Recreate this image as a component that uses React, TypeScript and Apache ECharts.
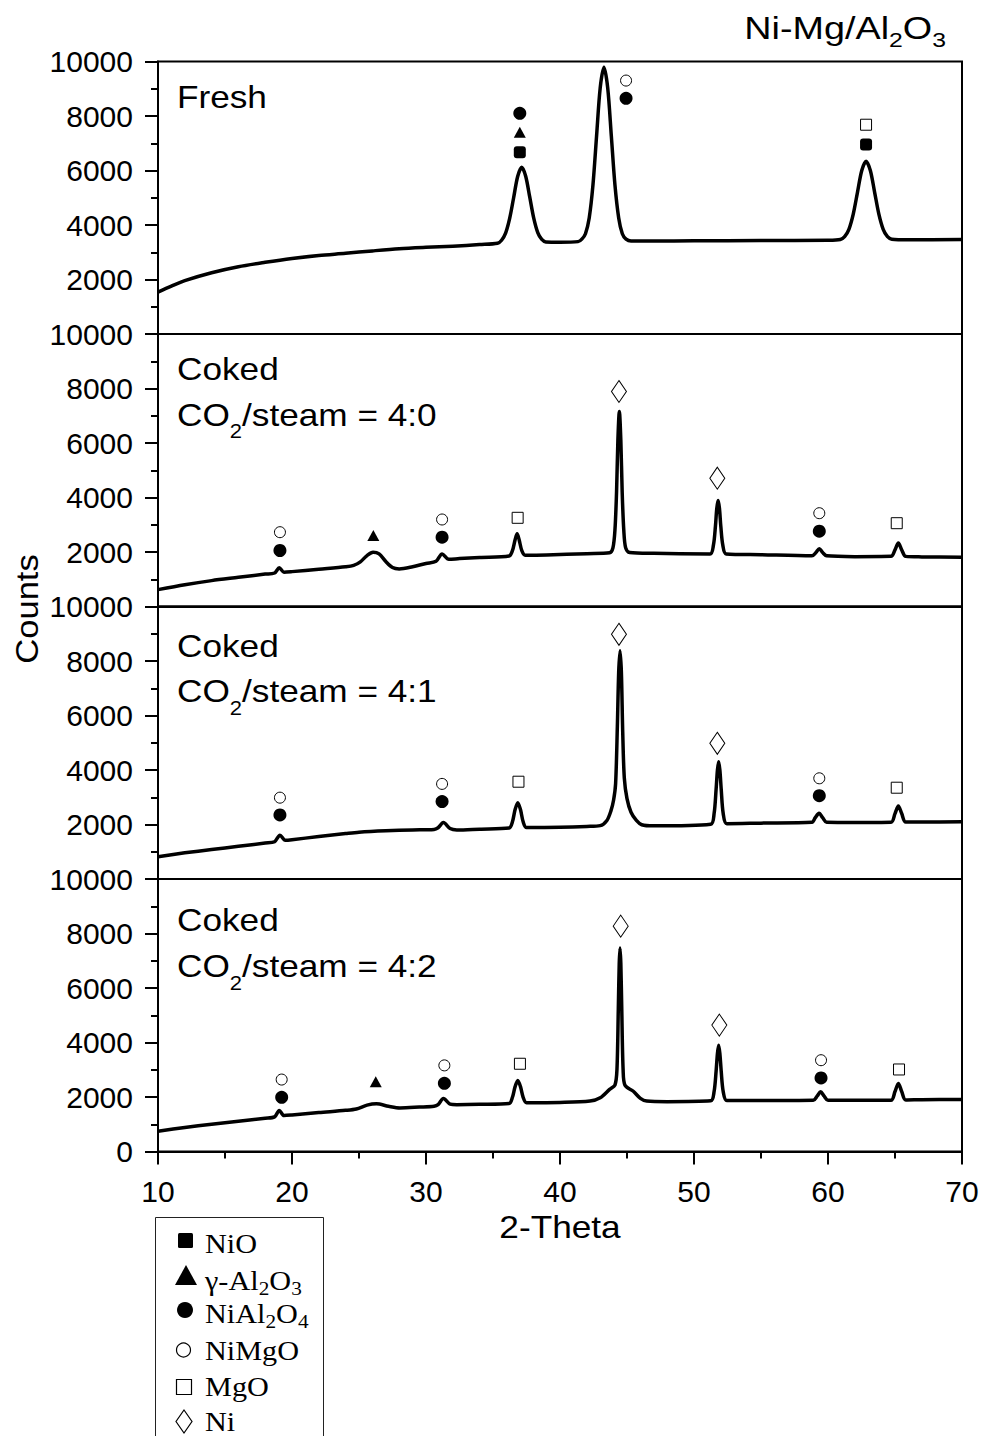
import React, { useEffect, useRef } from "react";
import * as echarts from "echarts";

// ---------- axes ----------
const X_MIN = 10;
const X_MAX = 70;
const X_INTERVAL = 10;
const Y_MIN = 0;
const Y_MAX = 10000;
const Y_INTERVAL = 2000;

// ---------- panel labels ----------
const panelTitles = ["Fresh", "Coked", "Coked", "Coked"];
const panelRatios = ["", "4:0", "4:1", "4:2"];

// ---------- diffraction patterns [2-theta, counts] ----------
const freshCurve = [
  [10, 1540], [11, 1760], [12, 1960], [14, 2250], [16, 2470], [18, 2630], [20, 2770], [22, 2880],
  [24, 2960], [26, 3050], [28, 3130], [30, 3180], [32, 3220], [34, 3280], [35.34, 3330], [35.64, 3440],
  [35.94, 3700], [36.24, 4230], [36.54, 5000], [36.84, 5780], [37.14, 6120], [37.44, 5790], [37.74, 5030],
  [38.04, 4250], [38.34, 3720], [38.64, 3470], [38.94, 3380], [40, 3370], [41.35, 3390], [41.63, 3480],
  [41.9, 3680], [42.18, 4260], [42.46, 5470], [42.73, 7270], [43.0, 9030], [43.28, 9790], [43.56, 9030],
  [43.83, 7270], [44.1, 5470], [44.38, 4260], [44.65, 3680], [44.93, 3480], [45.3, 3410], [47, 3410],
  [50, 3420], [55, 3430], [60, 3440], [60.92, 3470], [61.24, 3570], [61.56, 3840], [61.88, 4390],
  [62.2, 5200], [62.52, 6000], [62.84, 6340], [63.16, 6000], [63.48, 5200], [63.8, 4390], [64.12, 3840],
  [64.44, 3570], [64.76, 3480], [66, 3460], [70, 3470],
];

const coked40Curve = [
  [10, 620], [12, 800], [14, 950], [16, 1070], [18, 1190], [18.7, 1230], [19.05, 1420], [19.4, 1260],
  [20, 1280], [22, 1370], [24, 1460], [24.6, 1510], [25.1, 1640], [25.6, 1870], [26.05, 1990],
  [26.5, 1930], [27.0, 1650], [27.5, 1430], [28.0, 1380], [29.0, 1460], [30.0, 1580], [30.75, 1660],
  [31.2, 1930], [31.7, 1730], [32.5, 1760], [34, 1800], [36.2, 1850], [36.45, 2050], [36.65, 2450],
  [36.8, 2670], [36.95, 2450], [37.15, 2050], [37.4, 1880], [39, 1890], [42, 1940], [43.7, 1970],
  [43.95, 2150], [44.1, 2800], [44.22, 4200], [44.32, 6100], [44.43, 7160], [44.54, 6100], [44.64, 4200],
  [44.76, 2800], [44.9, 2150], [45.2, 1980], [47, 1950], [51.2, 1930], [51.45, 2250], [51.6, 2950],
  [51.7, 3600], [51.8, 3890], [51.9, 3600], [52.0, 2950], [52.15, 2250], [52.4, 1930], [55, 1900],
  [58.8, 1860], [59.1, 1980], [59.35, 2120], [59.6, 1980], [59.9, 1860], [62, 1830], [64.7, 1840],
  [65.0, 2080], [65.25, 2330], [65.5, 2080], [65.8, 1840], [67, 1820], [70, 1810],
];

const coked41Curve = [
  [10, 820], [12, 960], [14, 1080], [16, 1200], [18, 1320], [18.7, 1370], [19.1, 1610], [19.5, 1420],
  [20, 1440], [22, 1560], [24, 1670], [25, 1720], [27, 1770], [29, 1800], [30.6, 1820], [30.9, 1880],
  [31.3, 2070], [31.8, 1850], [32.3, 1800], [34, 1830], [36.2, 1870], [36.45, 2100], [36.65, 2550],
  [36.85, 2800], [37.05, 2550], [37.25, 2100], [37.5, 1890], [40, 1900], [42, 1930], [43, 1960],
  [43.5, 2150], [43.8, 2500], [44.0, 2900], [44.15, 3500], [44.28, 5600], [44.38, 7600], [44.48, 8380],
  [44.58, 7600], [44.68, 5400], [44.8, 3700], [45.0, 2950], [45.3, 2450], [45.7, 2150], [46.1, 1990],
  [47, 1950], [51.25, 2010], [51.5, 2400], [51.65, 3300], [51.75, 4000], [51.84, 4300], [51.93, 4000],
  [52.03, 3300], [52.18, 2400], [52.45, 2030], [55, 2050], [58.8, 2080], [59.05, 2250], [59.33, 2410],
  [59.6, 2250], [59.9, 2080], [62, 2070], [64.7, 2080], [65.0, 2400], [65.25, 2680], [65.5, 2400],
  [65.8, 2090], [67, 2090], [70, 2100],
];

const coked42Curve = [
  [10, 745], [12, 880], [14, 1000], [16, 1110], [18, 1220], [18.7, 1270], [19.05, 1505], [19.4, 1320],
  [20, 1340], [22, 1430], [24, 1510], [24.8, 1560], [25.6, 1700], [26.3, 1750], [27.2, 1660],
  [28.06, 1600], [29.5, 1630], [30.6, 1660], [30.9, 1720], [31.3, 1945], [31.8, 1740], [32.3, 1720],
  [34, 1730], [36.2, 1760], [36.45, 1990], [36.65, 2380], [36.85, 2610], [37.05, 2380], [37.25, 1990],
  [37.5, 1790], [40, 1800], [42.24, 1850], [43.0, 1970], [43.7, 2280], [44.1, 2440], [44.25, 3000],
  [44.35, 5200], [44.42, 6900], [44.48, 7470], [44.54, 6900], [44.61, 5200], [44.71, 3000], [44.85, 2430],
  [45.47, 2210], [46.0, 1950], [46.47, 1850], [48, 1830], [51.25, 1860], [51.5, 2200], [51.65, 2950],
  [51.75, 3600], [51.84, 3900], [51.93, 3600], [52.03, 2950], [52.18, 2200], [52.45, 1870], [55, 1870],
  [58.9, 1880], [59.2, 2040], [59.45, 2190], [59.7, 2040], [60.0, 1880], [62, 1880], [64.7, 1880],
  [65.0, 2200], [65.25, 2500], [65.5, 2200], [65.8, 1890], [67, 1900], [70, 1910],
];

// ---------- phase markers [2-theta, counts] per panel ----------
const phases = ["NiO", "γ-Al2O3", "NiAl2O4", "NiMgO", "MgO", "Ni"];

const freshMarkers = {
  NiO: [[37.0, 6670], [62.84, 6950]],
  "γ-Al2O3": [[37.0, 7400]],
  NiAl2O4: [[37.0, 8100], [44.93, 8650]],
  NiMgO: [[44.93, 9300]],
  MgO: [[62.84, 7680]],
  Ni: [],
};
const coked40Markers = {
  NiO: [],
  "γ-Al2O3": [[26.07, 2606]],
  NiAl2O4: [[19.1, 2055], [31.2, 2543], [59.35, 2763]],
  NiMgO: [[19.1, 2727], [31.2, 3193], [59.35, 3424]],
  MgO: [[36.84, 3255], [65.13, 3057]],
  Ni: [[44.4, 7890], [51.74, 4708]],
};
const coked41Markers = {
  NiO: [],
  "γ-Al2O3": [],
  NiAl2O4: [[19.1, 2350], [31.2, 2840], [59.35, 3057]],
  NiMgO: [[19.1, 2985], [31.2, 3490], [59.35, 3695]],
  MgO: [[36.9, 3570], [65.13, 3350]],
  Ni: [[44.4, 8980], [51.74, 4980]],
};
const coked42Markers = {
  NiO: [],
  "γ-Al2O3": [[26.25, 2560]],
  NiAl2O4: [[19.23, 1990], [31.37, 2500], [59.48, 2700]],
  NiMgO: [[19.23, 2640], [31.37, 3160], [59.48, 3350]],
  MgO: [[37.01, 3220], [65.3, 3010]],
  Ni: [[44.53, 8270], [51.89, 4640]],
};

const curves = [freshCurve, coked40Curve, coked41Curve, coked42Curve];
const markerSets = [freshMarkers, coked40Markers, coked41Markers, coked42Markers];

// ---------- styles ----------
const SANS = '"Liberation Sans", Arial, sans-serif';
const SERIF = '"Liberation Serif", "Times New Roman", serif';
const GRID_LEFT = 158;
const GRID_RIGHT = 24;
const GRID_TOP = 61.5;
const PANEL_H = 272.5;

const filled = { color: "#000", opacity: 1 };
const hollow = { color: "#fff", borderColor: "#000", borderWidth: 1, opacity: 1 };
const phaseStyle: Record<string, any> = {
  NiO: { symbol: "roundRect", symbolSize: 12, itemStyle: filled },
  "γ-Al2O3": { symbol: "triangle", symbolSize: [12, 11], itemStyle: filled },
  NiAl2O4: { symbol: "circle", symbolSize: 13, itemStyle: filled },
  NiMgO: { symbol: "circle", symbolSize: 11, itemStyle: hollow },
  MgO: { symbol: "rect", symbolSize: 11, itemStyle: hollow },
  Ni: { symbol: "diamond", symbolSize: [15, 22], itemStyle: hollow },
};

function sansRich(main: number, sub: number, lineH: number) {
  return {
    a: { fontSize: main, fontFamily: SANS, fill: "#000", color: "#000", lineHeight: lineH },
    s: { fontSize: sub, fontFamily: SANS, fill: "#000", color: "#000", verticalAlign: "bottom" },
  };
}

function textEl(x: number, y: number, text: string, opts: any = {}) {
  const align = opts.align || "left";
  return {
    type: "text",
    x,
    y,
    scaleX: opts.scaleX || 1,
    rotation: opts.rotation || 0,
    silent: true,
    style: {
      text,
      fill: "#000",
      fontSize: opts.fontSize || 32,
      fontFamily: opts.fontFamily || SANS,
      align,
      textAlign: align,
      verticalAlign: "middle",
      textVerticalAlign: "middle",
      rich: opts.rich,
    },
  };
}

function buildOption() {
  const grids = curves.map((_, i) => ({
    left: GRID_LEFT,
    right: GRID_RIGHT,
    top: GRID_TOP + i * PANEL_H,
    height: PANEL_H,
    show: true,
    borderColor: "#000",
    borderWidth: 2,
    backgroundColor: "transparent",
  }));
  const last = curves.length - 1;
  const xAxes = curves.map((_, i) => ({
    gridIndex: i,
    type: "value",
    min: X_MIN,
    max: X_MAX,
    interval: X_INTERVAL,
    axisLine: { show: true, onZero: false, lineStyle: { color: "#000", width: 2 } },
    axisTick: { show: i === last, inside: false, length: 13, lineStyle: { color: "#000", width: 2 } },
    minorTick: { show: i === last, splitNumber: 2, length: 7, lineStyle: { color: "#000", width: 2 } },
    axisLabel: { show: i === last, color: "#000", fontSize: 30, fontFamily: SANS, margin: 25 },
    splitLine: { show: false },
  }));
  const yAxes = curves.map((_, i) => ({
    gridIndex: i,
    type: "value",
    min: Y_MIN,
    max: Y_MAX,
    interval: Y_INTERVAL,
    axisLine: { show: true, onZero: false, lineStyle: { color: "#000", width: 2 } },
    axisTick: { show: true, inside: false, length: 13, lineStyle: { color: "#000", width: 2 } },
    minorTick: { show: true, splitNumber: 2, length: 7, lineStyle: { color: "#000", width: 2 } },
    axisLabel: {
      color: "#000",
      fontSize: 30,
      fontFamily: SANS,
      margin: 25,
      showMinLabel: i === last,
      showMaxLabel: true,
      formatter: (v: number) => String(v),
    },
    splitLine: { show: false },
  }));

  const series: any[] = [];
  curves.forEach((c, i) => {
    series.push({
      type: "line",
      name: panelTitles[i] + (panelRatios[i] ? " " + panelRatios[i] : ""),
      xAxisIndex: i,
      yAxisIndex: i,
      data: c,
      showSymbol: false,
      symbol: "none",
      smooth: 0.3,
      lineStyle: { color: "#000", width: 3.5, join: "round" },
      silent: true,
      z: 2,
    });
    const m: any = markerSets[i];
    phases.forEach((p) => {
      if (!m[p] || m[p].length === 0) return;
      series.push({
        type: "scatter",
        name: p,
        xAxisIndex: i,
        yAxisIndex: i,
        data: m[p],
        ...phaseStyle[p],
        silent: true,
        z: 3,
      });
    });
  });

  const graphic: any[] = [];
  // title
  graphic.push(
    textEl(946, 28, "{a|Ni-Mg/Al}{s|2}{a|O}{s|3}", {
      align: "right",
      scaleX: 1.18,
      rich: sansRich(32, 21, 44),
    })
  );
  // panel labels
  const line1Y = [97, 369.5, 646, 920];
  const line2Y = [0, 415, 691.5, 966.5];
  curves.forEach((_, i) => {
    graphic.push(textEl(177, line1Y[i], panelTitles[i], { scaleX: 1.1 }));
    if (panelRatios[i]) {
      graphic.push(
        textEl(177, line2Y[i], "{a|CO}{s|2}{a|/steam = " + panelRatios[i] + "}", {
          scaleX: 1.1,
          rich: sansRich(32, 20, 52),
        })
      );
    }
  });
  // axis names
  graphic.push(textEl(27, 609, "Counts", { align: "center", rotation: Math.PI / 2, scaleX: 1.08 }));
  graphic.push(textEl(560, 1227, "2-Theta", { align: "center", scaleX: 1.1 }));

  // legend box
  const legendRich = {
    a: { fontSize: 27, fontFamily: SERIF, fill: "#000", color: "#000", lineHeight: 34 },
    s: { fontSize: 19, fontFamily: SERIF, fill: "#000", color: "#000", verticalAlign: "bottom" },
  };
  const legendTexts = [
    "{a|NiO}",
    "{a|γ-Al}{s|2}{a|O}{s|3}",
    "{a|NiAl}{s|2}{a|O}{s|4}",
    "{a|NiMgO}",
    "{a|MgO}",
    "{a|Ni}",
  ];
  const legendY = [1244, 1281, 1314, 1351, 1387, 1422];
  graphic.push({
    type: "rect",
    silent: true,
    shape: { x: 155.5, y: 1217.5, width: 168, height: 260 },
    style: { fill: "none", stroke: "#222", lineWidth: 1 },
  });
  const blk = { fill: "#000" };
  const open = { fill: "#fff", stroke: "#000", lineWidth: 1.2 };
  graphic.push({ type: "rect", silent: true, shape: { x: 178, y: 1233, width: 15, height: 15, r: 1.5 }, style: blk });
  graphic.push({ type: "polygon", silent: true, shape: { points: [[186, 1265], [175, 1285], [197, 1285]] }, style: blk });
  graphic.push({ type: "circle", silent: true, shape: { cx: 185, cy: 1310, r: 8 }, style: blk });
  graphic.push({ type: "circle", silent: true, shape: { cx: 183.5, cy: 1350, r: 7 }, style: open });
  graphic.push({ type: "rect", silent: true, shape: { x: 176.5, y: 1379.5, width: 15, height: 15 }, style: open });
  graphic.push({
    type: "polygon",
    silent: true,
    shape: { points: [[184, 1410], [192, 1421.5], [184, 1433], [176, 1421.5]] },
    style: open,
  });
  legendTexts.forEach((t, k) => {
    graphic.push(textEl(205, legendY[k], t, { scaleX: 1.12, fontFamily: SERIF, fontSize: 27, rich: legendRich }));
  });

  return {
    animation: false,
    backgroundColor: "#fff",
    grid: grids,
    xAxis: xAxes,
    yAxis: yAxes,
    series,
    graphic,
  };
}

export default function App() {
  const ref = useRef<HTMLDivElement>(null);
  useEffect(() => {
    if (!ref.current) return;
    const chart = echarts.init(ref.current, null, { renderer: "svg" });
    chart.setOption(buildOption() as any);
    return () => chart.dispose();
  }, []);
  return (
    <div
      ref={ref}
      style={{ position: "absolute", left: 0, top: 0, width: 986, height: 1436, background: "#fff" }}
    />
  );
}
